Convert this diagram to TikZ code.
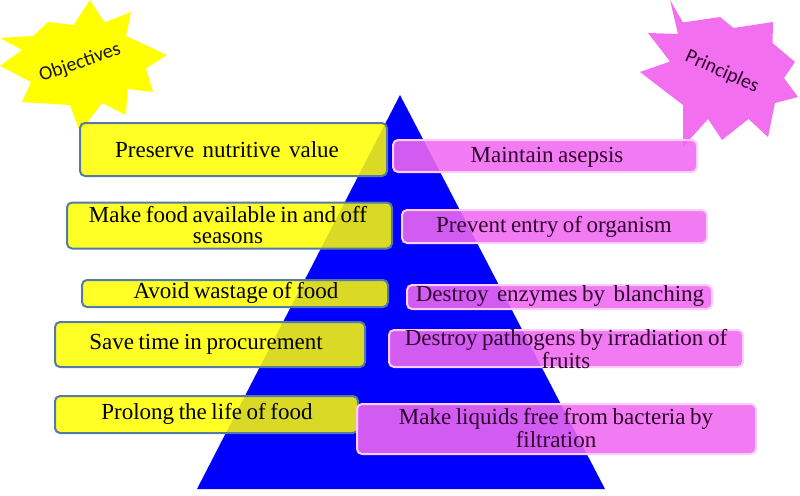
\documentclass[tikz,border=0pt]{standalone}
\usepackage{fontspec}
\setmainfont{Liberation Serif}
\newfontfamily\starfont{Carlito}
\newcommand\boxfont{\fontsize{23}{21}\selectfont\spaceskip=0.2em plus 0.1em\relax}
\definecolor{pyrblue}{RGB}{0,0,255}
\definecolor{boxyellow}{RGB}{255,255,0}
\definecolor{yedge}{RGB}{84,122,170}
\definecolor{boxpink}{RGB}{240,104,240}
\definecolor{pedge}{RGB}{250,205,250}
\definecolor{starpink}{RGB}{242,112,240}
\definecolor{pinktext}{RGB}{45,5,45}
\begin{document}
\begin{tikzpicture}[x=1pt,y=-1pt,
    ybox/.style={draw=yedge, line width=2pt, fill=boxyellow, fill opacity=0.85,
                 rounded corners=5pt, inner sep=0pt},
    pbox/.style={draw=pedge, line width=2pt, fill=boxpink, fill opacity=0.88,
                 rounded corners=5pt, inner sep=0pt},
    ytext/.style={align=center, text=black, font=\boxfont},
    ptext/.style={align=center, text=pinktext, font=\boxfont},
    startext/.style={font=\starfont\fontsize{20}{20}\selectfont}]
  \useasboundingbox (0,0) rectangle (800,495);

  % bursts
  \fill[boxyellow] (90,0) -- (104.5,22.5) -- (131,12) -- (126,36) -- (167,55) -- (146,68.5)
    -- (153,92) -- (127.5,89) -- (126,115) -- (102,103) -- (80,132) -- (70,105)
    -- (22,102) -- (31,82) -- (0,66) -- (22,50) -- (0,38) -- (33,36) -- (48,22)
    -- (73.5,25) -- cycle;
  \fill[starpink] (670,0) -- (683,22.5) -- (720,17) -- (733.5,28) -- (773,22) -- (772.5,43)
    -- (795,62) -- (784,78) -- (798,97) -- (775,103) -- (768,137) -- (748.5,119)
    -- (722,140) -- (708,119) -- (683,147) -- (683,105) -- (640,72) -- (670,61.5)
    -- (648,33) -- (678,34) -- cycle;
  \node[startext, text=black!90, rotate=19] (objlabel) at (80,63) {Objectives};
  \node[startext, text=pinktext, rotate=-24] (prilabel) at (722,72) {Principles};

  % pyramid
  \fill[pyrblue] (400,95) -- (605,489) -- (197,489) -- cycle;

  % objectives
  \node[ybox, minimum width=307pt, minimum height=53pt] (obj1) at (233.5,149.5) {};
  \node[ybox, minimum width=325pt, minimum height=46pt] (obj2) at (229.5,225.5) {};
  \node[ybox, minimum width=306pt, minimum height=27pt] (obj3) at (235,293.5) {};
  \node[ybox, minimum width=310pt, minimum height=45pt] (obj4) at (210,344.5) {};
  \node[ybox, minimum width=303pt, minimum height=37pt] (obj5) at (206.5,414.5) {};
  \node[ytext] (objtext1) at (227,150) {Preserve\, nutritive\, value};
  \node[ytext] (objtext2) at (228,225) {Make food available in and off\\seasons};
  \node[ytext] (objtext3) at (236,293) {Avoid wastage of food};
  \node[ytext] (objtext4) at (206,344) {Save time in procurement};
  \node[ytext] (objtext5) at (207,414) {Prolong the life of food};

  % principles
  \node[pbox, minimum width=304pt, minimum height=32pt] (pri1) at (545,156) {};
  \node[pbox, minimum width=305pt, minimum height=33pt] (pri2) at (554.5,226.5) {};
  \node[pbox, minimum width=305pt, minimum height=24pt] (pri3) at (559.5,297) {};
  \node[pbox, minimum width=354pt, minimum height=37pt] (pri4) at (566,348.5) {};
  \node[pbox, minimum width=399pt, minimum height=50pt] (pri5) at (556.5,429) {};
  \node[ptext] (pritext1) at (547,157) {Maintain asepsis};
  \node[ptext] (pritext2) at (554,227) {Prevent entry of organism};
  \node[ptext] (pritext3) at (560,296) {Destroy\, enzymes by\, blanching};
  \node[ptext] (pritext4) at (566,349) {Destroy pathogens by irradiation of\\fruits};
  \node[ptext] (pritext5) at (556,428) {Make liquids free from bacteria by\\filtration};
\end{tikzpicture}
\end{document}
